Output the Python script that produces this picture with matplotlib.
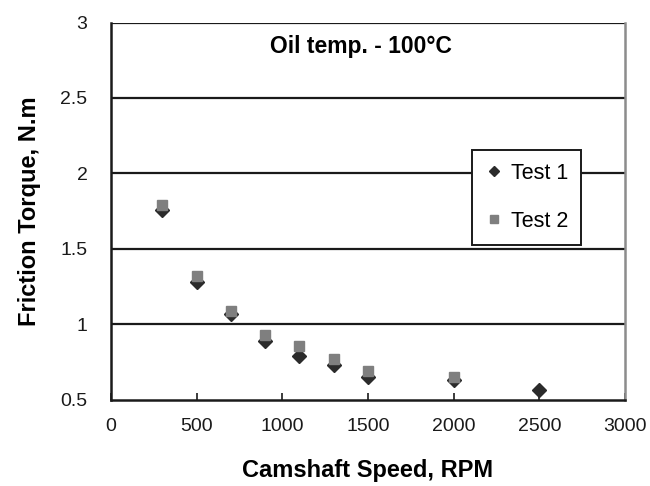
import matplotlib
matplotlib.use("Agg")
import matplotlib.pyplot as plt

plt.rcParams['font.family'] = ['Liberation Sans', 'DejaVu Sans']

speed_t1 = [300, 500, 700, 900, 1100, 1300, 1500, 2000, 2500]
torque_t1 = [1.755, 1.28, 1.07, 0.89, 0.79, 0.73, 0.655, 0.63, 0.565]
speed_t2 = [300, 500, 700, 900, 1100, 1300, 1500, 2000]
torque_t2 = [1.79, 1.32, 1.09, 0.93, 0.855, 0.77, 0.695, 0.65]

xticks = [0, 500, 1000, 1500, 2000, 2500, 3000]
yticks = [0.5, 1, 1.5, 2, 2.5, 3]
ytick_labels = ['0.5', '1', '1.5', '2', '2.5', '3']

fig = plt.figure(figsize=(6.5, 4.86), dpi=100)
ax = fig.add_axes([0.1708, 0.177, 0.7907, 0.7767])

for y in [1, 1.5, 2, 2.5, 3]:
    ax.axhline(y, color='#1a1a1a', lw=1.6, zorder=1)

ax.plot(speed_t1, torque_t1, linestyle='none', marker='D', markersize=7,
        color='#2b2b2b', label='Test 1', zorder=3)
ax.plot(speed_t2, torque_t2, linestyle='none', marker='s', markersize=7.5,
        color='#7f7f7f', label='Test 2', zorder=4)

ax.set_xlim(0, 3000)
ax.set_ylim(0.5, 3)
ax.set_xticks(xticks)
ax.set_yticks(yticks)
ax.set_yticklabels(ytick_labels)
ax.tick_params(axis='x', direction='in', length=5, width=1.2, pad=13, labelsize=14, colors='#1a1a1a')
ax.tick_params(axis='y', length=0, pad=17, labelsize=14, colors='#1a1a1a')

for side in ['left', 'bottom']:
    ax.spines[side].set_color('#1a1a1a')
    ax.spines[side].set_linewidth(1.8)
ax.spines['right'].set_color('#8c8c8c')
ax.spines['right'].set_linewidth(1.8)
ax.spines['top'].set_visible(False)

ax.set_xlabel('Camshaft Speed, RPM', fontsize=17, fontweight='bold', labelpad=17)
ax.set_ylabel('Friction Torque, N.m', fontsize=17, fontweight='bold', labelpad=14)

ax.text(1460, 2.84, 'Oil temp. - 100°C', fontsize=16.5, fontweight='bold',
        ha='center', va='center')

leg = ax.legend(loc='upper left', bbox_to_anchor=(0.702, 0.662), fontsize=15.5,
                frameon=True, fancybox=False, edgecolor='#1a1a1a', framealpha=1,
                labelspacing=1.25, handletextpad=0.3, handlelength=0.9,
                borderpad=0.6, borderaxespad=0, markerscale=0.8)
leg.get_frame().set_linewidth(1.4)

fig.savefig('out.png', dpi=100)
